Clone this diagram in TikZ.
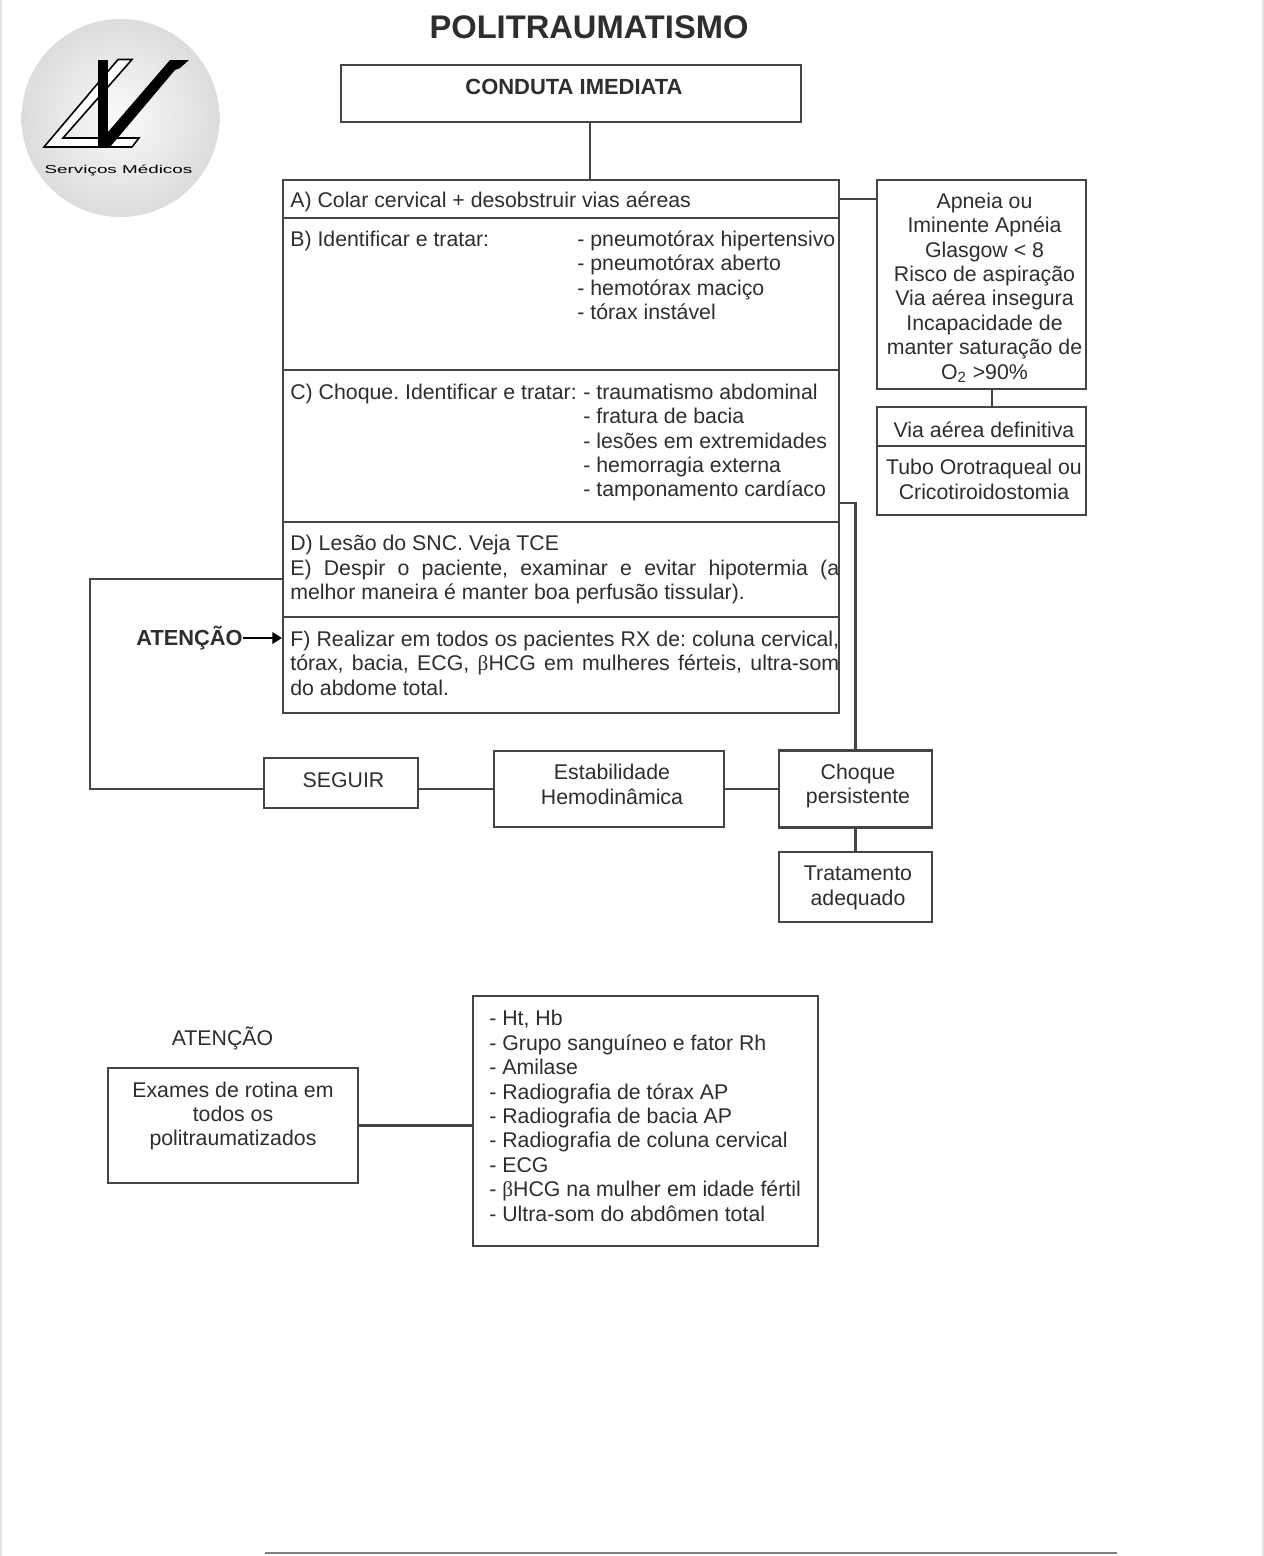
\documentclass[tikz,border=0pt]{standalone}
\usepackage{fontspec}
\usepackage{xcolor}
\setmainfont{Liberation Sans}
\newfontfamily\betafont{Liberation Serif}
\usetikzlibrary{calc, positioning, arrows.meta}
\definecolor{InkGrey}{HTML}{2E2E2E}
\definecolor{EdgeGrey}{HTML}{444444}
\definecolor{DiscEdge}{HTML}{DCDCDC}
\definecolor{DiscCore}{HTML}{FAFAFA}
\definecolor{ScanGrey}{HTML}{E4E4E4}
\newcommand{\bodyfont}{\fontsize{12.12}{13.9}\selectfont\frenchspacing}
\tikzset{
    boxnode/.style={draw=EdgeGrey, line width=1.2pt, inner sep=0pt},
    wire/.style={draw=EdgeGrey, line width=1.2pt},
    plaintext/.style={text=InkGrey, inner sep=0pt, font=\bodyfont},
    midtext/.style={plaintext, align=center},
    lefttext/.style={plaintext, align=left, anchor=north west},
    justtext/.style={plaintext, align=justify, anchor=north west, text width=10.98cm}
}
\begin{document}
\begin{tikzpicture}[x=0.02cm, y=-0.02cm]
        \useasboundingbox (0,0) rectangle (1264,1556);
        \fill[white] (0,0) rectangle (1264,1556);
        \draw[ScanGrey, line width=1pt] (1,0) -- (1,1556);
        \draw[ScanGrey, line width=1pt] (1263,0) -- (1263,1556);
        \draw[gray, line width=0.8pt] (265,1553) -- (1117,1553);

        % Logo disc
        \shade[inner color=DiscCore, outer color=DiscEdge] (120.5,118) circle (99);
        \draw[black, line width=0.9pt, fill=white] (44,147) -- (118,59.5) -- (132,59.5) -- (63,138) -- (139,138) -- (132,147) -- cycle;
        \fill[black] (98,60) rectangle (108,147);
        \fill[black] (108,132) -- (170,60) -- (189,60) -- (180,68) -- (175,70) -- (110,147) -- (108,147) -- cycle;
        \node[inner sep=0pt, black, xscale=1.65, font=\fontsize{6.5}{7}\selectfont] (logoText) at (118.5,170.5) {Serviços Médicos};

        \node[text=InkGrey, inner sep=0pt, font=\fontsize{18.6}{20}\selectfont\bfseries] (title) at (589,27) {POLITRAUMATISMO};

        % Top box
        \node[boxnode, minimum width=9.2cm, minimum height=1.14cm] (conduta) at (571,93.5) {};
        \node[plaintext, font=\fontsize{12.5}{14}\selectfont\bfseries] (condutaText) at (574,87) {CONDUTA IMEDIATA};
        \coordinate (condutaLink) at (590,150);

        % Main stack
        \node[boxnode, minimum width=11.12cm, minimum height=0.76cm] (secA) at (561,199) {};
        \node[boxnode, minimum width=11.12cm, minimum height=3.04cm] (secB) at (561,294) {};
        \node[boxnode, minimum width=11.12cm, minimum height=3.04cm] (secC) at (561,446) {};
        \node[boxnode, minimum width=11.12cm, minimum height=1.90cm] (secDE) at (561,569.5) {};
        \node[boxnode, minimum width=11.12cm, minimum height=1.92cm] (secF) at (561,665) {};

        \node[plaintext, anchor=west] (secAText) at (290,201.5) {A) Colar cervical + desobstruir vias aéreas};
        \node[lefttext] (secBText) at (290,230.5) {B) Identificar e tratar:};
        \node[lefttext] (secBList) at (577,230.5) {- pneumotórax hipertensivo\\- pneumotórax aberto\\- hemotórax maciço\\- tórax instável};
        \node[lefttext] (secCText) at (290,383.5) {C) Choque. Identificar e tratar:};
        \node[lefttext] (secCList) at (583,383.5) {- traumatismo abdominal\\- fratura de bacia\\- lesões em extremidades\\- hemorragia externa\\- tamponamento cardíaco};
        \node[justtext] (secDEText) at (290,535) {D) Lesão do SNC. Veja TCE\\E) Despir o paciente, examinar e evitar hipotermia (a\linebreak melhor maneira é manter boa perfusão tissular).};
        \node[justtext] (secFText) at (290,630.5) {F) Realizar em todos os pacientes RX de: coluna cervical,\linebreak tórax, bacia, ECG, {\betafont β}HCG em mulheres férteis, ultra-som\linebreak do abdome total.};

        % Right column
        \node[boxnode, minimum width=4.18cm, minimum height=4.18cm] (apneia) at (981.5,284.5) {};
        \node[midtext] (apneiaText) at (984.5,287.5) {Apneia ou\\Iminente Apnéia\\Glasgow < 8\\Risco de aspiração\\Via aérea insegura\\Incapacidade de\\manter saturação de\\O\textsubscript{2} >90\%};
        \node[boxnode, minimum width=4.18cm, minimum height=0.78cm] (viaAerea) at (981.5,426.5) {};
        \node[midtext] (viaAereaText) at (984,430) {Via aérea definitiva};
        \node[boxnode, minimum width=4.18cm, minimum height=1.38cm] (tubo) at (981.5,480.5) {};
        \node[midtext] (tuboText) at (984,479.5) {Tubo Orotraqueal ou\\Cricotiroidostomia};
        \coordinate (apneiaLink) at (992,398);

        % Bottom row of the flow
        \node[boxnode, minimum width=3.08cm, minimum height=1.00cm] (seguir) at (341,783) {};
        \node[midtext] (seguirText) at (343.5,780) {SEGUIR};
        \node[boxnode, minimum width=4.60cm, minimum height=1.52cm] (estab) at (609,789) {};
        \node[midtext] (estabText) at (612,784.5) {Estabilidade\\Hemodinâmica};
        \node[boxnode, minimum width=3.06cm, minimum height=1.54cm] (choque) at (855.5,789) {};
        \node[midtext] (choqueText) at (858,786) {Choque\\persistente};
        \node[boxnode, minimum width=3.06cm, minimum height=1.40cm] (tratamento) at (855.5,887) {};
        \node[midtext] (tratamentoText) at (858,888) {Tratamento\\adequado};
        \node[plaintext, font=\fontsize{12.4}{14}\selectfont\bfseries] (atencaoTop) at (189.5,638) {ATENÇÃO};
        \coordinate (choqueExit) at (839,503);
        \coordinate (loopCorner) at (90,579);

        % Routine exams
        \node[midtext] (atencaoLow) at (222.5,1038) {ATENÇÃO};
        \node[boxnode, minimum width=5.00cm, minimum height=2.30cm] (exames) at (233,1125.5) {};
        \node[midtext] (examesText) at (233,1116) {Exames de rotina em\\todos os\\politraumatizados};
        \node[boxnode, minimum width=6.90cm, minimum height=5.00cm] (lista) at (645.5,1121) {};
        \node[lefttext] (listaText) at (489,1010) {- Ht, Hb\\- Grupo sanguíneo e fator Rh\\- Amilase\\- Radiografia de tórax AP\\- Radiografia de bacia AP\\- Radiografia de coluna cervical\\- ECG\\- {\betafont β}HCG na mulher em idade fértil\\- Ultra-som do abdômen total};

        % Connectors
        \draw[wire] (conduta.south -| condutaLink) -- (secA.north -| condutaLink);
        \draw[wire] (secA.east) -- (secA.east -| apneia.west);
        \draw[wire] (apneia.south -| apneiaLink) -- (viaAerea.north -| apneiaLink);
        \draw[wire] (choqueExit) -| (choque.north);
        \draw[wire] (choque.west) -- (choque.west -| estab.east);
        \draw[wire] (estab.west) -- (estab.west -| seguir.east);
        \draw[wire] (estab.west -| seguir.west) -| (loopCorner) -- (loopCorner -| secDE.west);
        \draw[wire] (choque.south) -- (tratamento.north);
        \draw[wire, draw=black, -{Triangle[length=5.5pt, width=6.5pt]}] (atencaoTop.east) -- (atencaoTop.east -| secF.west);
        \draw[wire] (exames.east) -- (exames.east -| lista.west);
    \end{tikzpicture}
\end{document}
